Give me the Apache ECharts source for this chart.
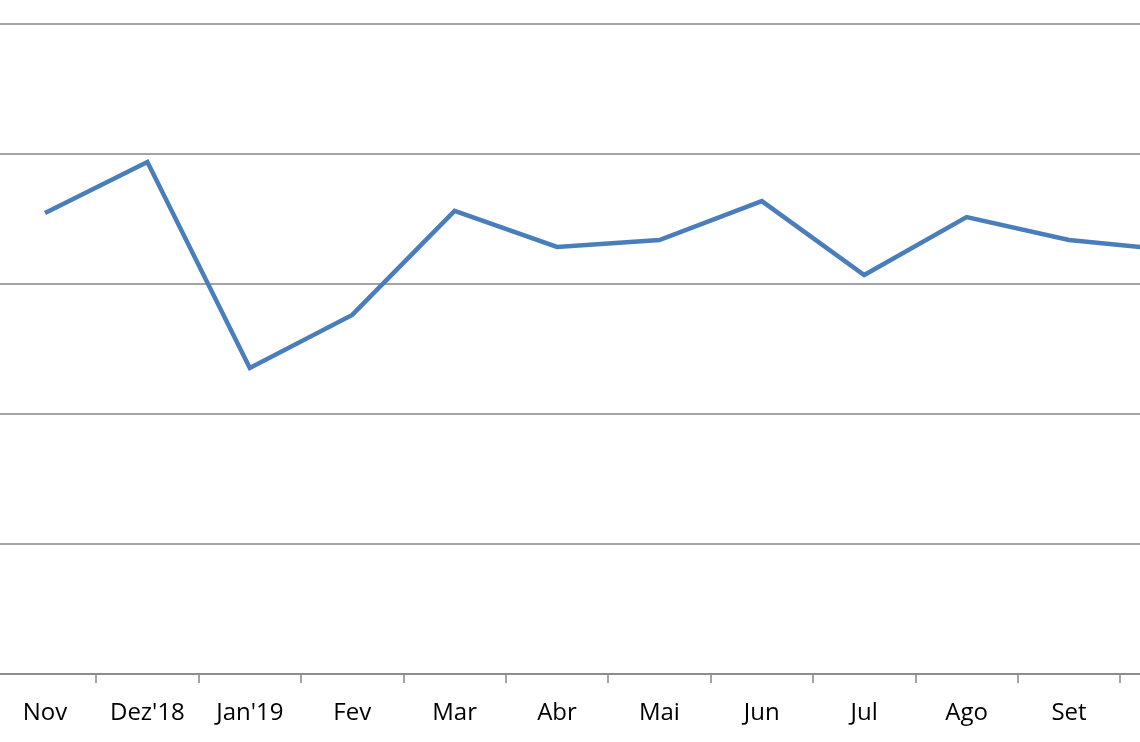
<!DOCTYPE html>
<html>
<head>
<meta charset="utf-8">
<script src="https://cdn.jsdelivr.net/npm/echarts@6/dist/echarts.min.js"></script>
<style>html,body{margin:0;padding:0;background:#fff}#c{width:1140px;height:742px}</style>
</head>
<body>
<div id="c"></div>
<script>
const categories = ["Nov", "Dez'18", "Jan'19", "Fev", "Mar", "Abr", "Mai", "Jun", "Jul", "Ago", "Set", "Out"];
const values = [3.546, 3.938, 2.354, 2.762, 3.562, 3.285, 3.338, 3.638, 3.069, 3.515, 3.338, 3.262];

const chart = echarts.init(document.getElementById('c'));
chart.setOption({
  animation: false,
  backgroundColor: '#ffffff',
  grid: { left: -6.2, right: -82.6, top: 24, bottom: 68, outerBoundsMode: 'none', containLabel: false },
  xAxis: {
    type: 'category',
    data: categories,
    boundaryGap: true,
    axisLine: { lineStyle: { color: '#868686', width: 1.5 } },
    axisTick: { show: true, length: 9, lineStyle: { color: '#868686', width: 1.5 } },
    axisLabel: { color: '#000', fontSize: 24, fontFamily: 'Open Sans, Noto Sans, sans-serif', margin: 27, interval: 0 },
    splitLine: { show: false }
  },
  yAxis: {
    type: 'value',
    min: 0, max: 5, interval: 1,
    axisLine: { show: false },
    axisTick: { show: false },
    axisLabel: { show: false },
    splitLine: { lineStyle: { color: '#868686', width: 1.5 } }
  },
  series: [{
    type: 'line',
    data: values,
    symbol: 'none',
    lineStyle: { color: '#4A7EBB', width: 4.5, join: 'miter' },
    itemStyle: { color: '#4A7EBB' }
  }]
});
</script>
</body>
</html>
